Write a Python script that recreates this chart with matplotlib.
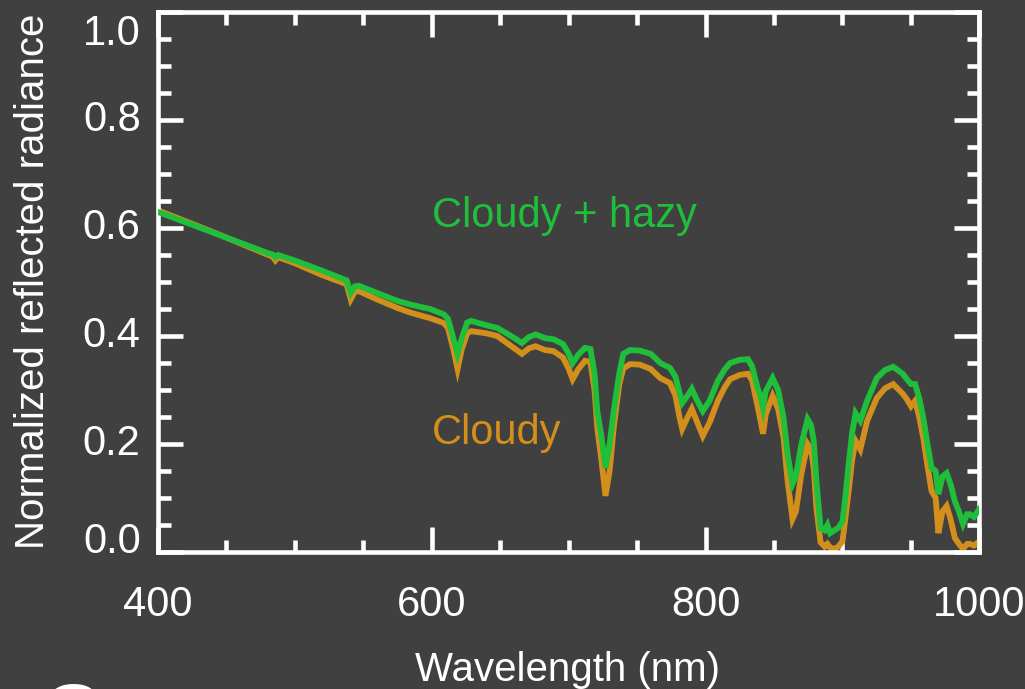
import matplotlib
matplotlib.use("Agg")
import matplotlib.pyplot as plt
from matplotlib.ticker import MultipleLocator, FixedLocator, NullFormatter

# Wavelength samples (nm) shared by both spectra
wavelength = [
    400, 420, 440, 460, 480, 484, 486, 488, 500, 520, 538, 541, 544, 547, 560,
    575, 585, 599, 609, 612, 616, 619, 622, 626, 629, 640, 648, 660, 666, 671,
    676, 683, 689, 696, 700, 703, 707, 712, 716, 719, 721, 724, 727, 730, 733,
    737, 740, 745, 752, 760, 767, 774, 778, 781, 783, 787, 790, 794, 798, 803,
    809, 814, 818, 825, 831, 834, 838, 840, 842, 844, 849, 853, 857, 860, 863.5,
    866, 870, 874.5, 877, 879, 881, 884, 887, 889, 891, 894, 897, 900, 902,
    904.5, 907, 909.5, 913, 918, 925, 931, 937, 944, 947, 950, 953, 956, 959,
    962, 965, 968, 970, 973, 976, 979, 982, 985, 988, 991, 993, 996, 1000,
]

# Normalized reflected radiance, cloudy + hazy atmosphere
radiance_hazy = [
    0.630, 0.611, 0.592, 0.573, 0.554, 0.551, 0.546, 0.550, 0.540, 0.521, 0.503,
    0.480, 0.492, 0.493, 0.480, 0.465, 0.458, 0.450, 0.440, 0.432, 0.395, 0.367,
    0.395, 0.425, 0.428, 0.420, 0.415, 0.397, 0.387, 0.398, 0.403, 0.396, 0.394,
    0.385, 0.368, 0.350, 0.365, 0.378, 0.376, 0.330, 0.261, 0.215, 0.156, 0.200,
    0.261, 0.330, 0.367, 0.374, 0.373, 0.367, 0.350, 0.341, 0.325, 0.295, 0.276,
    0.290, 0.302, 0.280, 0.261, 0.280, 0.317, 0.338, 0.350, 0.356, 0.357, 0.344,
    0.304, 0.290, 0.267, 0.298, 0.322, 0.300, 0.248, 0.180, 0.126, 0.140, 0.200,
    0.246, 0.235, 0.206, 0.130, 0.044, 0.040, 0.050, 0.035, 0.040, 0.045, 0.057,
    0.100, 0.163, 0.220, 0.257, 0.243, 0.280, 0.322, 0.337, 0.343, 0.330, 0.320,
    0.311, 0.311, 0.285, 0.248, 0.200, 0.156, 0.150, 0.107, 0.140, 0.146, 0.125,
    0.094, 0.075, 0.052, 0.070, 0.070, 0.065, 0.080,
]

# Normalized reflected radiance, cloudy atmosphere
radiance_cloudy = [
    0.633, 0.613, 0.593, 0.572, 0.551, 0.547, 0.540, 0.546, 0.535, 0.513, 0.496,
    0.468, 0.482, 0.483, 0.468, 0.452, 0.443, 0.433, 0.424, 0.415, 0.375, 0.339,
    0.375, 0.405, 0.409, 0.405, 0.400, 0.378, 0.367, 0.377, 0.381, 0.374, 0.372,
    0.360, 0.340, 0.320, 0.338, 0.354, 0.352, 0.300, 0.230, 0.170, 0.104, 0.150,
    0.230, 0.310, 0.340, 0.348, 0.347, 0.339, 0.322, 0.313, 0.290, 0.250, 0.228,
    0.250, 0.265, 0.240, 0.215, 0.240, 0.280, 0.305, 0.320, 0.328, 0.330, 0.318,
    0.270, 0.245, 0.219, 0.255, 0.289, 0.265, 0.211, 0.130, 0.061, 0.075, 0.145,
    0.200, 0.190, 0.156, 0.080, 0.018, 0.010, 0.015, 0.008, 0.006, 0.010, 0.020,
    0.060, 0.113, 0.170, 0.206, 0.190, 0.243, 0.285, 0.303, 0.311, 0.293, 0.283,
    0.270, 0.280, 0.250, 0.211, 0.160, 0.113, 0.100, 0.035, 0.075, 0.085, 0.060,
    0.026, 0.015, 0.006, 0.015, 0.015, 0.012, 0.020,
]

x_ticks = [400, 600, 800, 1000]
x_tick_labels = ["400", "600", "800", "1000"]
y_ticks = [0.0, 0.2, 0.4, 0.6, 0.8, 1.0]
y_tick_labels = ["0.0", "0.2", "0.4", "0.6", "0.8", "1.0"]

BG = "#404040"
GREEN = "#1FBE3B"
ORANGE = "#D38F1B"
FG = "white"
FONT = ["Liberation Sans", "DejaVu Sans"]
FS = 30        # tick labels and curve annotations
FS_TITLE = 29  # axis titles

plt.rcParams["font.family"] = FONT

fig = plt.figure(figsize=(10.25, 6.89), dpi=100, facecolor=BG)
ax = fig.add_axes([0.1537, 0.1988, 0.8019, 0.7838], facecolor=BG)

ax.plot(wavelength, radiance_cloudy, color=ORANGE, lw=4.2, solid_joinstyle="miter", zorder=2)
ax.plot(wavelength, radiance_hazy, color=GREEN, lw=4.2, solid_joinstyle="miter", zorder=3)

ax.set_xlim(400, 1000)
ax.set_ylim(0.0, 1.0)

ax.xaxis.set_major_locator(FixedLocator(x_ticks))
ax.xaxis.set_minor_locator(MultipleLocator(50))
ax.set_xticklabels(x_tick_labels)
ax.yaxis.set_major_locator(FixedLocator(y_ticks))
ax.yaxis.set_minor_locator(MultipleLocator(0.05))
ax.yaxis.set_major_formatter(NullFormatter())

for s in ax.spines.values():
    s.set_color(FG)
    s.set_linewidth(3.3)

ax.tick_params(which="both", direction="in", top=True, right=True,
               colors=FG, width=3.3, labelleft=False)
ax.tick_params(which="major", length=18)
ax.tick_params(which="minor", length=9)
ax.tick_params(axis="x", which="major", pad=24, labelsize=FS)

# y tick labels; the end labels are tucked inside the axis range
y_shift = {1.0: -0.041, 0.0: 0.0185}
ytrans = ax.get_yaxis_transform()
for val, lab in zip(y_ticks, y_tick_labels):
    ax.text(-0.0205, val + y_shift.get(val, 0.0), lab, transform=ytrans,
            ha="right", va="center", fontsize=FS, color=FG, clip_on=False)

fig.text(567.5 / 1025, 1 - 681 / 689, "Wavelength (nm)", ha="center",
         va="baseline", fontsize=FS_TITLE, color=FG)
fig.text(33 / 1025, 0.5914, "Normalized reflected radiance", rotation=90,
         ha="center", va="center", fontsize=FS_TITLE, color=FG)

ax.text(600.5, 0.622, "Cloudy + hazy", color=GREEN, fontsize=FS,
        ha="left", va="center")
ax.text(600.5, 0.22, "Cloudy", color=ORANGE, fontsize=FS,
        ha="left", va="center")

# logo lettering running off the lower edge
fig.text(42 / 1025, 1 - 741 / 689, "G", fontsize=58, fontweight="bold",
         color=FG, ha="left", va="baseline")

fig.savefig("out.png", dpi=100, facecolor=BG)
